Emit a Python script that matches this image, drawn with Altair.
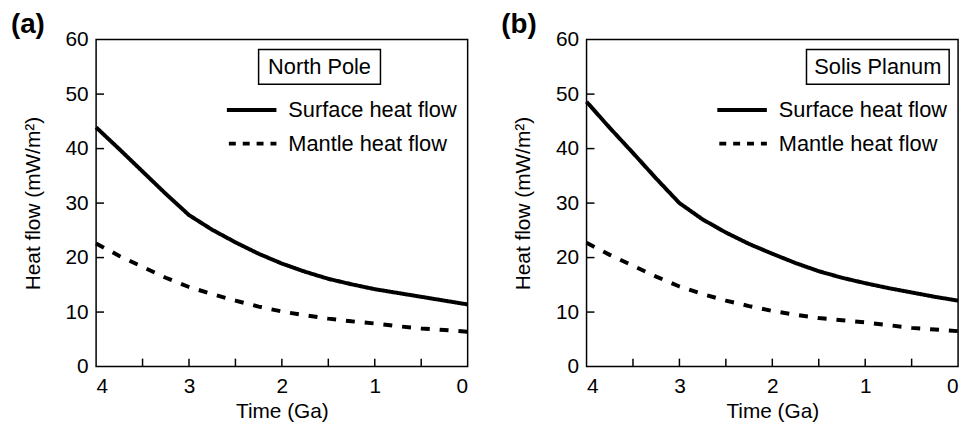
import altair as alt
import pandas as pd

# ---- data ----
times = [4.0, 3.75, 3.5, 3.25, 3.0, 2.75, 2.5, 2.25, 2.0, 1.75, 1.5, 1.25, 1.0, 0.75, 0.5, 0.25, 0.0]

surface_north = [43.9, 39.9, 35.8, 31.7, 27.8, 25.1, 22.8, 20.7, 18.9, 17.4, 16.1, 15.1, 14.2, 13.5, 12.8, 12.1, 11.4]
mantle_north = [22.6, 20.3, 18.3, 16.3, 14.6, 13.3, 12.1, 11.0, 10.1, 9.4, 8.8, 8.3, 7.9, 7.4, 7.0, 6.7, 6.4]

surface_solis = [48.6, 43.8, 39.2, 34.5, 30.0, 27.0, 24.6, 22.5, 20.7, 19.0, 17.5, 16.3, 15.3, 14.4, 13.6, 12.8, 12.1]
mantle_solis = [22.7, 20.5, 18.5, 16.5, 14.7, 13.3, 12.1, 11.1, 10.2, 9.5, 8.9, 8.5, 8.1, 7.6, 7.1, 6.8, 6.5]

series_names = ["Surface heat flow", "Mantle heat flow"]
x_label_values = [0, 1, 2, 3, 4]
x_minor_ticks = [0.5, 1.0, 1.5, 2.0, 2.5, 3.0, 3.5]
y_label_values = [0, 10, 20, 30, 40, 50, 60]
y_minor_ticks = [10, 20, 30, 40, 50]

W, H = 375, 330
FONT = "Liberation Sans"
DASH = [9, 10]
LEG_DASH = [7, 7]
LW = 4


def panel(tag, site, surface, mantle, box_left, box_right):
    n = len(times)
    df = pd.DataFrame({
        "time": times + times,
        "flow": surface + mantle,
        "series": [series_names[0]] * n + [series_names[1]] * n,
    })
    xs = alt.Scale(domain=[4, 0], nice=False, zero=False)
    ys = alt.Scale(domain=[0, 60], nice=False)
    x_axis = alt.Axis(values=x_label_values, format="d", title="Time (Ga)",
                      ticks=False, domain=False, grid=False, labelPadding=9, titlePadding=4)
    y_axis = alt.Axis(values=y_label_values, title="Heat flow (mW/m²)",
                      ticks=False, domain=False, grid=False, labelPadding=8, titlePadding=22)

    lines = alt.Chart(df).mark_line(color="black", strokeWidth=LW).encode(
        x=alt.X("time:Q", scale=xs, axis=x_axis),
        y=alt.Y("flow:Q", scale=ys, axis=y_axis),
        strokeDash=alt.StrokeDash(
            "series:N",
            scale=alt.Scale(domain=series_names, range=[[1, 0], DASH]),
            legend=None,
        ),
    )

    xt = alt.Chart(pd.DataFrame({"time": x_minor_ticks})).mark_rule(
        color="black", strokeWidth=1.5).encode(
        x=alt.X("time:Q", scale=xs, axis=x_axis),
        y=alt.value(H), y2=alt.value(H - 8))

    yt = alt.Chart(pd.DataFrame({"flow": y_minor_ticks})).mark_rule(
        color="black", strokeWidth=1.5).encode(
        y=alt.Y("flow:Q", scale=ys, axis=y_axis),
        x=alt.value(0), x2=alt.value(8))

    sdf = pd.DataFrame({"site": [site], "tag": [tag],
                        "s1": [series_names[0]], "s2": [series_names[1]]})
    box = alt.Chart(sdf).mark_rect(fill="white", stroke="black", strokeWidth=1.5).encode(
        x=alt.value(box_left), x2=alt.value(box_right),
        y=alt.value(10), y2=alt.value(45))
    box_text = alt.Chart(sdf).mark_text(
        font=FONT, fontSize=22, color="black", align="center", baseline="middle").encode(
        text="site:N", x=alt.value((box_left + box_right) / 2), y=alt.value(28))
    tag_text = alt.Chart(sdf).mark_text(
        font=FONT, fontSize=28, fontWeight="bold", color="black",
        align="left", baseline="alphabetic").encode(
        text="tag:N", x=alt.value(-86), y=alt.value(-7))

    # legend (drawn manually)
    leg1 = alt.Chart(sdf).mark_rule(color="black", strokeWidth=LW).encode(
        x=alt.value(132), x2=alt.value(182), y=alt.value(71))
    leg2 = alt.Chart(sdf).mark_rule(color="black", strokeWidth=LW, strokeDash=LEG_DASH).encode(
        x=alt.value(134), x2=alt.value(182), y=alt.value(105))
    lt1 = alt.Chart(sdf).mark_text(
        font=FONT, fontSize=22, color="black", align="left", baseline="middle").encode(
        text="s1:N", x=alt.value(194), y=alt.value(71))
    lt2 = alt.Chart(sdf).mark_text(
        font=FONT, fontSize=22, color="black", align="left", baseline="middle").encode(
        text="s2:N", x=alt.value(194), y=alt.value(105))

    return alt.layer(lines, xt, yt, box, box_text, tag_text, leg1, leg2, lt1, lt2).properties(
        width=W, height=H)


left = panel("(a)", "North Pole", surface_north, mantle_north, 164, 287)
right = panel("(b)", "Solis Planum", surface_solis, mantle_solis, 222, 366)

chart = alt.hconcat(left, right, spacing=24).properties(
    padding={"left": 10, "top": 8, "right": 0, "bottom": 0}
).configure_view(
    stroke="black", strokeWidth=1.5
).configure_axis(
    labelFont=FONT, titleFont=FONT, labelFontSize=21, titleFontSize=21,
    labelColor="black", titleColor="black", titleFontWeight="normal",
)

chart.save("out.html", embed_options={"renderer": "svg", "actions": False})
